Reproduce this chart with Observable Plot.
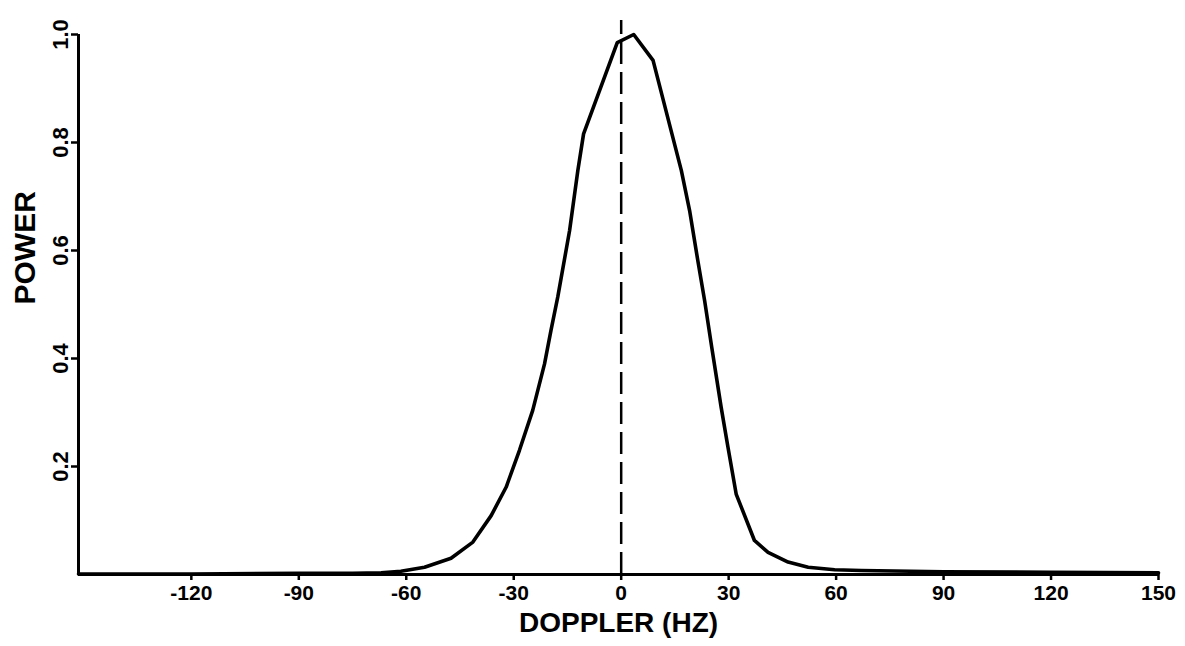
<!DOCTYPE html>
<html>
<head>
<meta charset="utf-8">
<script src="https://cdn.jsdelivr.net/npm/d3@7"></script>
<script src="https://cdn.jsdelivr.net/npm/@observablehq/plot@0.6"></script>
<style>
  html, body { margin: 0; padding: 0; background: #fff; }
  #chart { width: 1185px; height: 646px; }
</style>
</head>
<body>
<div id="chart"></div>
<script>
// Doppler frequency (Hz) and normalized power
const dopplerHz = [-151.5, -120, -90, -75, -67, -61.5, -54.9, -47.5, -41.4, -36.3, -32.1, -28.4, -24.7, -21.4, -19.6, -17.7, -14.4, -12.1, -10.5, -1.1, 3.5, 8.9, 16.8, 19.1, 21.4, 23.3, 25.3, 27.9, 29.8, 32.1, 37.2, 41.0, 46.6, 52.2, 59.6, 67, 90, 120, 150];
const power     = [0.001, 0.001, 0.002, 0.002, 0.003, 0.006, 0.0135, 0.030, 0.060, 0.109, 0.162, 0.230, 0.304, 0.390, 0.452, 0.514, 0.637, 0.748, 0.816, 0.985, 1.0, 0.952, 0.748, 0.674, 0.581, 0.507, 0.420, 0.310, 0.236, 0.149, 0.063, 0.041, 0.023, 0.0135, 0.0087, 0.0074, 0.005, 0.004, 0.003];
const xTicks = [-120, -90, -60, -30, 0, 30, 60, 90, 120, 150];
const yTicks = [0.2, 0.4, 0.6, 0.8, 1.0];
const xDomain = [-151.5, 150];
const yDomain = [0, 1];
const zeroLine = [{x: 0, y1: 0, y2: 1.026}];
const xLabel = "DOPPLER (HZ)";
const yLabel = "POWER";

const data = dopplerHz.map((d, i) => ({hz: d, p: power[i]}));

const font = "'Liberation Sans', Arial, sans-serif";

const chart = Plot.plot({
  width: 1185,
  height: 646,
  marginLeft: 78,
  marginRight: 27,
  marginTop: 34,
  marginBottom: 72,
  style: {fontFamily: font, background: "#fff", color: "#000"},
  x: {domain: xDomain, axis: null},
  y: {domain: yDomain, axis: null},
  marks: [
    Plot.axisX(xTicks, {tickSize: 6, tickPadding: 5, fontSize: 21, fontWeight: "bold", tickFormat: d => String(d), label: null, strokeWidth: 2.5}),
    Plot.axisY(yTicks, {tickSize: 7, tickPadding: 4, tickRotate: -90, fontSize: 22, fontWeight: "bold", tickFormat: d3.format(".1f"), label: null, strokeWidth: 2.5}),
    Plot.ruleY(yDomain.slice(0, 1), {stroke: "#000", strokeWidth: 3}),
    Plot.ruleX(xDomain.slice(0, 1), {y1: yDomain[0], y2: yDomain[1], stroke: "#000", strokeWidth: 3}),
    Plot.ruleX(zeroLine, {x: "x", y1: "y1", y2: "y2", stroke: "#000", strokeWidth: 2.5, strokeDasharray: "22,8"}),
    Plot.line(data, {x: "hz", y: "p", stroke: "#000", strokeWidth: 3.6, strokeLinejoin: "round"}),
    Plot.text([xLabel], {frameAnchor: "bottom", dy: 57, fontSize: 28, fontWeight: "bold", fontFamily: font, fill: "#000"}),
    Plot.text([yLabel], {frameAnchor: "left", dx: -53, rotate: -90, fontSize: 30, fontWeight: "bold", fontFamily: font, fill: "#000"})
  ]
});
document.getElementById("chart").appendChild(chart);
</script>
</body>
</html>
